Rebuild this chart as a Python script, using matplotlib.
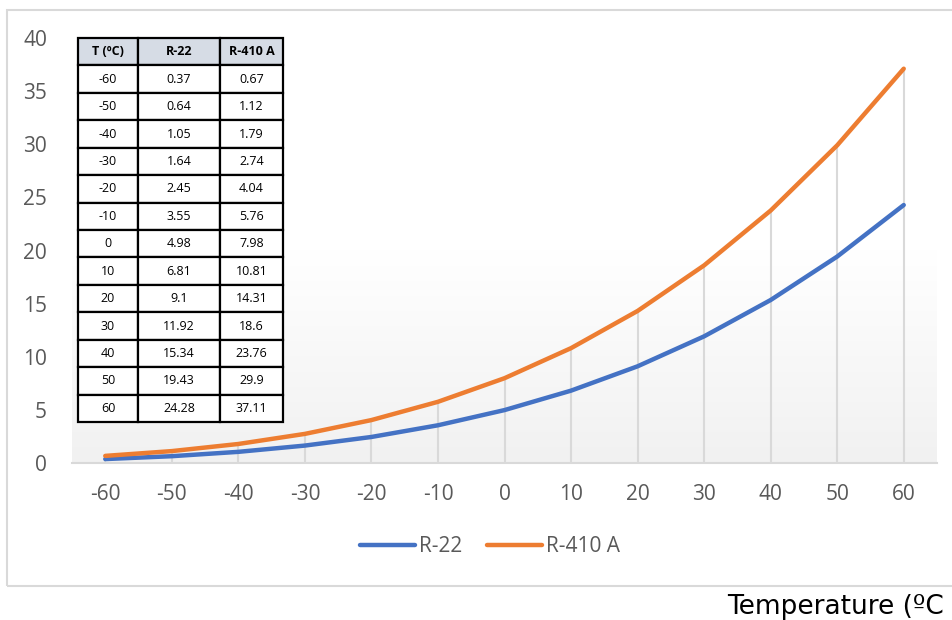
import numpy as np
import matplotlib
matplotlib.use("Agg")
import matplotlib.pyplot as plt
from matplotlib.patches import Rectangle

temps = [-60, -50, -40, -30, -20, -10, 0, 10, 20, 30, 40, 50, 60]
r22 = [0.37, 0.64, 1.05, 1.64, 2.45, 3.55, 4.98, 6.81, 9.1, 11.92, 15.34, 19.43, 24.28]
r410a = [0.67, 1.12, 1.79, 2.74, 4.04, 5.76, 7.98, 10.81, 14.31, 18.6, 23.76, 29.9, 37.11]
col_labels = ["T (ºC)", "R-22", "R-410 A"]
series_names = ["R-22", "R-410 A"]
yticks = [0, 5, 10, 15, 20, 25, 30, 35, 40]
xlabel_text = "Temperature (ºC"

W, H = 952, 620
fig = plt.figure(figsize=(W / 100, H / 100), dpi=100)
fig.patch.set_facecolor("white")

# chart border
fig.patches.append(Rectangle((7 / W, 1 - 586 / H), 1.0, (586 - 10) / H,
                             transform=fig.transFigure, fill=False,
                             edgecolor="#d9d9d9", linewidth=1.5))

ax = fig.add_axes([72 / W, 1 - 463 / H, 865 / W, 425 / H])
n = len(temps)
xs = np.arange(n)
ax.set_xlim(-0.5, n - 0.5)
ax.set_ylim(0, 40)

# gradient background
grad = np.linspace(0, 1, 256).reshape(-1, 1)
cmap = matplotlib.colors.LinearSegmentedColormap.from_list("g", ["#ffffff", "#ffffff", "#f1f1f1"])
ax.imshow(grad, extent=[0, 1, 0, 1], transform=ax.transAxes, aspect="auto",
          cmap=cmap, origin="upper", zorder=0)

# drop lines
top = np.maximum(r22, r410a)
ax.vlines(xs, 0, top, color="#d9d9d9", linewidth=1.5, zorder=1)

l1, = ax.plot(xs, r22, color="#4472c4", linewidth=3.2, solid_capstyle="round", zorder=3, label=series_names[0])
l2, = ax.plot(xs, r410a, color="#ed7d31", linewidth=3.2, solid_capstyle="round", zorder=3, label=series_names[1])

for s in ["top", "left", "right"]:
    ax.spines[s].set_visible(False)
ax.spines["bottom"].set_color("#d9d9d9")
ax.spines["bottom"].set_linewidth(1.5)

tick_font = dict(family=["Open Sans", "DejaVu Sans"], size=15)
ax.set_xticks(xs)
ax.set_xticklabels([str(t) for t in temps], color="#595959", fontdict=tick_font)
ax.set_yticks(yticks)
ax.set_yticklabels([str(v) for v in yticks], color="#595959", fontdict=tick_font)
ax.tick_params(axis="both", length=0)
ax.tick_params(axis="x", pad=15)
ax.tick_params(axis="y", pad=18)

# table
cell_text = [[str(t), str(a), str(b)] for t, a, b in zip(temps, r22, r410a)]
tbl = ax.table(cellText=cell_text, colLabels=col_labels,
               colWidths=[60 / 205, 82 / 205, 63 / 205],
               bbox=[6 / 865, 41 / 425, 205 / 865, 384 / 425],
               cellLoc="center", zorder=5)
tbl.auto_set_font_size(False)
for (r, c), cell in tbl.get_celld().items():
    cell.set_edgecolor("black")
    cell.set_linewidth(1.6)
    cell.get_text().set_fontsize(9)
    cell.get_text().set_family(["Open Sans", "DejaVu Sans"])
    if r == 0:
        cell.set_facecolor("#d6dce5")
        cell.get_text().set_fontweight("bold")
    else:
        cell.set_facecolor("white")

fig.legend(handles=[l1, l2], loc="center", bbox_to_anchor=(490 / W, 1 - 547 / H),
           ncol=2, frameon=False, handlelength=2.65, handletextpad=0.2, columnspacing=1.15,
           prop=dict(family=["Open Sans", "DejaVu Sans"], size=15), labelcolor="#595959")

fig.text(727 / W, 1 - 607 / H, xlabel_text, ha="left", va="center",
         fontsize=19, family=["DejaVu Sans"], color="black")

fig.savefig("out.png", dpi=100)
